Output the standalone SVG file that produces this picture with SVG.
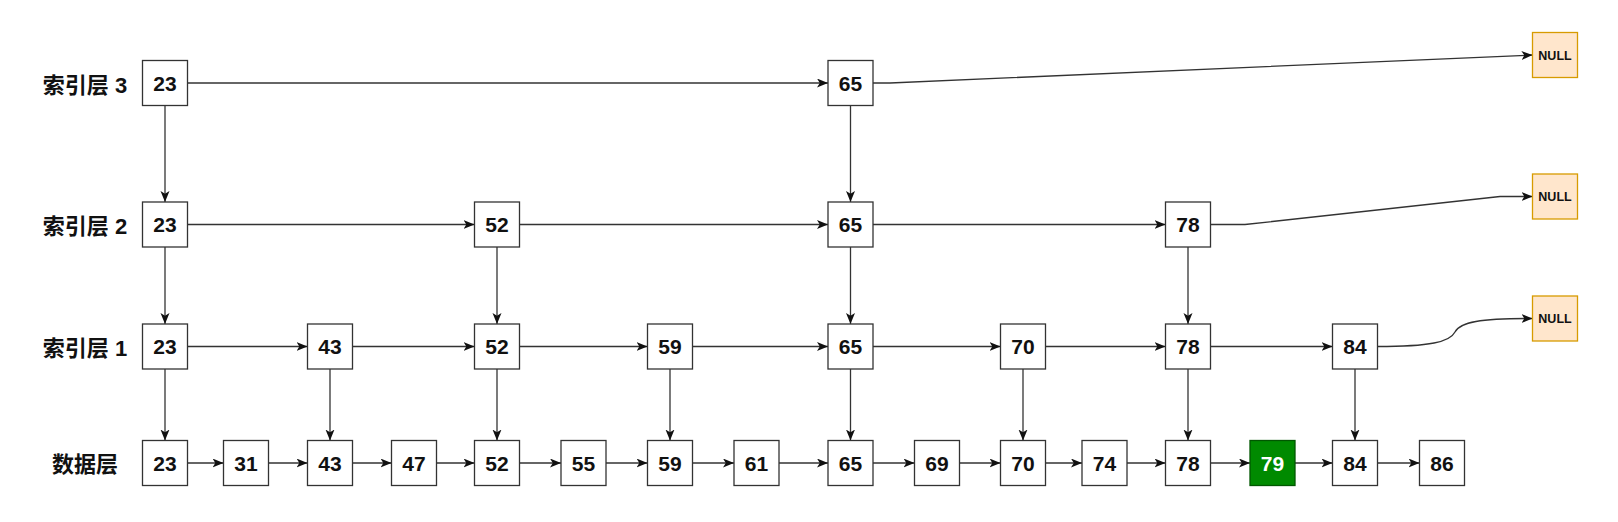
<svg xmlns="http://www.w3.org/2000/svg" width="1618" height="522" viewBox="0 0 1618 522">
<style>
.bx{fill:#ffffff;stroke:#333333;stroke-width:1.3}
.hl{fill:#008a00;stroke:#005700;stroke-width:1.3}
.nl{fill:#ffe6cc;stroke:#d79b00;stroke-width:1.3}
.t{font-family:"Liberation Sans",Arial,sans-serif;font-weight:bold;font-size:21px;fill:#111111;text-anchor:middle}
.tw{fill:#ffffff}
.tn{font-size:12.5px}
.lb{font-family:"Liberation Sans","Noto Sans CJK SC",sans-serif;font-weight:bold;font-size:22px;fill:#111111;text-anchor:middle}
.e{fill:none;stroke:#333333;stroke-width:1.3;marker-end:url(#ar)}
</style>
<defs>
<marker id="ar" markerUnits="userSpaceOnUse" markerWidth="12" markerHeight="10" refX="11" refY="4.5" orient="auto">
<path d="M0,0 L11,4.5 L0,9 L2.8,4.5 Z" fill="#111111"/>
</marker>
</defs>
<rect width="1618" height="522" fill="#ffffff"/>

<g id="labels">
<text class="lb" x="85" y="93">索引层 3</text>
<text class="lb" x="85" y="234">索引层 2</text>
<text class="lb" x="85" y="356">索引层 1</text>
<text class="lb" x="85" y="472">数据层</text>
</g>

<g id="connectors">
<path class="e" d="M187.5,83 L828,83"/>
<path class="e" d="M873,83 L890,83 L1532.5,55"/>
<path class="e" d="M187.5,224.5 L474.5,224.5"/>
<path class="e" d="M519.5,224.5 L828,224.5"/>
<path class="e" d="M873,224.5 L1165.5,224.5"/>
<path class="e" d="M1210.5,224.5 L1245,224.5 L1500,196.5 L1532.5,196.5"/>
<path class="e" d="M187.5,346.5 L307.5,346.5"/>
<path class="e" d="M352.5,346.5 L474.5,346.5"/>
<path class="e" d="M519.5,346.5 L647.5,346.5"/>
<path class="e" d="M692.5,346.5 L828,346.5"/>
<path class="e" d="M873,346.5 L1000.5,346.5"/>
<path class="e" d="M1045.5,346.5 L1165.5,346.5"/>
<path class="e" d="M1210.5,346.5 L1332.5,346.5"/>
<path class="e" d="M1377.5,346.5 C1430,346.5 1450,342 1455,332 C1460,322 1480,318.5 1532.5,318.5"/>
<path class="e" d="M187.5,463 L223.5,463"/>
<path class="e" d="M268.5,463 L307.5,463"/>
<path class="e" d="M352.5,463 L391.5,463"/>
<path class="e" d="M436.5,463 L474.5,463"/>
<path class="e" d="M519.5,463 L561,463"/>
<path class="e" d="M606,463 L647.5,463"/>
<path class="e" d="M692.5,463 L734,463"/>
<path class="e" d="M779,463 L828,463"/>
<path class="e" d="M873,463 L914.5,463"/>
<path class="e" d="M959.5,463 L1000.5,463"/>
<path class="e" d="M1045.5,463 L1082,463"/>
<path class="e" d="M1127,463 L1165.5,463"/>
<path class="e" d="M1210.5,463 L1250,463"/>
<path class="e" d="M1295,463 L1332.5,463"/>
<path class="e" d="M1377.5,463 L1419.5,463"/>
<path class="e" d="M165,105.5 L165,202"/>
<path class="e" d="M850.5,105.5 L850.5,202"/>
<path class="e" d="M165,247 L165,324"/>
<path class="e" d="M497,247 L497,324"/>
<path class="e" d="M850.5,247 L850.5,324"/>
<path class="e" d="M1188,247 L1188,324"/>
<path class="e" d="M165,369 L165,440.5"/>
<path class="e" d="M330,369 L330,440.5"/>
<path class="e" d="M497,369 L497,440.5"/>
<path class="e" d="M670,369 L670,440.5"/>
<path class="e" d="M850.5,369 L850.5,440.5"/>
<path class="e" d="M1023,369 L1023,440.5"/>
<path class="e" d="M1188,369 L1188,440.5"/>
<path class="e" d="M1355,369 L1355,440.5"/>
</g>

<g id="r3-23"><rect class="bx" x="142.5" y="60.5" width="45" height="45"/><text class="t" x="165" y="90.5">23</text></g>
<g id="r3-65"><rect class="bx" x="828" y="60.5" width="45" height="45"/><text class="t" x="850.5" y="90.5">65</text></g>
<g id="r3-null"><rect class="nl" x="1532.5" y="32.5" width="45" height="45"/><text class="t tn" x="1555" y="59.5">NULL</text></g>

<g id="r2-23"><rect class="bx" x="142.5" y="202" width="45" height="45"/><text class="t" x="165" y="232">23</text></g>
<g id="r2-52"><rect class="bx" x="474.5" y="202" width="45" height="45"/><text class="t" x="497" y="232">52</text></g>
<g id="r2-65"><rect class="bx" x="828" y="202" width="45" height="45"/><text class="t" x="850.5" y="232">65</text></g>
<g id="r2-78"><rect class="bx" x="1165.5" y="202" width="45" height="45"/><text class="t" x="1188" y="232">78</text></g>
<g id="r2-null"><rect class="nl" x="1532.5" y="174" width="45" height="45"/><text class="t tn" x="1555" y="201">NULL</text></g>

<g id="r1-23"><rect class="bx" x="142.5" y="324" width="45" height="45"/><text class="t" x="165" y="354">23</text></g>
<g id="r1-43"><rect class="bx" x="307.5" y="324" width="45" height="45"/><text class="t" x="330" y="354">43</text></g>
<g id="r1-52"><rect class="bx" x="474.5" y="324" width="45" height="45"/><text class="t" x="497" y="354">52</text></g>
<g id="r1-59"><rect class="bx" x="647.5" y="324" width="45" height="45"/><text class="t" x="670" y="354">59</text></g>
<g id="r1-65"><rect class="bx" x="828" y="324" width="45" height="45"/><text class="t" x="850.5" y="354">65</text></g>
<g id="r1-70"><rect class="bx" x="1000.5" y="324" width="45" height="45"/><text class="t" x="1023" y="354">70</text></g>
<g id="r1-78"><rect class="bx" x="1165.5" y="324" width="45" height="45"/><text class="t" x="1188" y="354">78</text></g>
<g id="r1-84"><rect class="bx" x="1332.5" y="324" width="45" height="45"/><text class="t" x="1355" y="354">84</text></g>
<g id="r1-null"><rect class="nl" x="1532.5" y="296" width="45" height="45"/><text class="t tn" x="1555" y="323">NULL</text></g>

<g id="d-23"><rect class="bx" x="142.5" y="440.5" width="45" height="45"/><text class="t" x="165" y="470.5">23</text></g>
<g id="d-31"><rect class="bx" x="223.5" y="440.5" width="45" height="45"/><text class="t" x="246" y="470.5">31</text></g>
<g id="d-43"><rect class="bx" x="307.5" y="440.5" width="45" height="45"/><text class="t" x="330" y="470.5">43</text></g>
<g id="d-47"><rect class="bx" x="391.5" y="440.5" width="45" height="45"/><text class="t" x="414" y="470.5">47</text></g>
<g id="d-52"><rect class="bx" x="474.5" y="440.5" width="45" height="45"/><text class="t" x="497" y="470.5">52</text></g>
<g id="d-55"><rect class="bx" x="561" y="440.5" width="45" height="45"/><text class="t" x="583.5" y="470.5">55</text></g>
<g id="d-59"><rect class="bx" x="647.5" y="440.5" width="45" height="45"/><text class="t" x="670" y="470.5">59</text></g>
<g id="d-61"><rect class="bx" x="734" y="440.5" width="45" height="45"/><text class="t" x="756.5" y="470.5">61</text></g>
<g id="d-65"><rect class="bx" x="828" y="440.5" width="45" height="45"/><text class="t" x="850.5" y="470.5">65</text></g>
<g id="d-69"><rect class="bx" x="914.5" y="440.5" width="45" height="45"/><text class="t" x="937" y="470.5">69</text></g>
<g id="d-70"><rect class="bx" x="1000.5" y="440.5" width="45" height="45"/><text class="t" x="1023" y="470.5">70</text></g>
<g id="d-74"><rect class="bx" x="1082" y="440.5" width="45" height="45"/><text class="t" x="1104.5" y="470.5">74</text></g>
<g id="d-78"><rect class="bx" x="1165.5" y="440.5" width="45" height="45"/><text class="t" x="1188" y="470.5">78</text></g>
<g id="d-79"><rect class="hl" x="1250" y="440.5" width="45" height="45"/><text class="t tw" x="1272.5" y="470.5">79</text></g>
<g id="d-84"><rect class="bx" x="1332.5" y="440.5" width="45" height="45"/><text class="t" x="1355" y="470.5">84</text></g>
<g id="d-86"><rect class="bx" x="1419.5" y="440.5" width="45" height="45"/><text class="t" x="1442" y="470.5">86</text></g>
</svg>
